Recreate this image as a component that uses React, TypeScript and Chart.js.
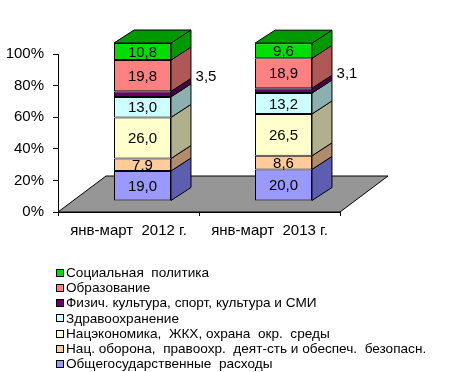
import React, { useEffect, useRef } from "react";
import { Chart, registerables } from "chart.js";

Chart.register(...registerables);

const categories = ["янв-март  2012 г.", "янв-март  2013 г."];
const seriesNames = [
  "Общегосударственные  расходы",
  "Нац. оборона,  правоохр.  деят-сть и обеспеч.  безопасн.",
  "Нацэкономика,  ЖКХ, охрана  окр.  среды",
  "Здравоохранение",
  "Физич. культура, спорт, культура и СМИ",
  "Образование",
  "Социальная  политика",
];
const general = [19.0, 20.0];
const defense = [7.9, 8.6];
const economy = [26.0, 26.5];
const health = [13.0, 13.2];
const culture = [3.5, 3.1];
const education = [19.8, 18.9];
const social = [10.8, 9.6];
const seriesValues = [general, defense, economy, health, culture, education, social];
const yTicks = [0, 20, 40, 60, 80, 100];

const frontColors = ["#9999FF", "#FFCC99", "#FFFFCC", "#CCFFFF", "#660066", "#FF8080", "#00DD00"];
const sideColors = ["#5E5EB0", "#B08C6A", "#B0B08C", "#8CB0B0", "#460046", "#B05858", "#009A00"];

const FONT = "'Liberation Sans', Arial, sans-serif";
const SHIFT_X = 14;
const SHIFT_Y = -11;
const DEPTH_X = 20;
const DEPTH_Y = -13;
const FLOOR_X = 48;
const FLOOR_Y = -36;

const fmt = (v: number) => v.toFixed(1).replace(".", ",");

const threeD = {
  id: "threeD",
  beforeDatasetsDraw(chart: any) {
    const { ctx, chartArea: a } = chart;
    ctx.save();
    ctx.beginPath();
    ctx.moveTo(a.left, a.bottom);
    ctx.lineTo(a.right, a.bottom);
    ctx.lineTo(a.right + FLOOR_X, a.bottom + FLOOR_Y);
    ctx.lineTo(a.left + FLOOR_X, a.bottom + FLOOR_Y);
    ctx.closePath();
    ctx.fillStyle = "#969696";
    ctx.fill();
    ctx.strokeStyle = "#000";
    ctx.lineWidth = 1;
    ctx.stroke();
    ctx.translate(SHIFT_X, SHIFT_Y);
  },
  afterDatasetsDraw(chart: any) {
    const ctx = chart.ctx;
    const n = chart.data.datasets.length;
    ctx.strokeStyle = "#000";
    ctx.lineWidth = 1;
    for (let i = 0; i < n; i++) {
      const meta = chart.getDatasetMeta(i);
      meta.data.forEach((bar: any) => {
        const p = bar.getProps(["x", "y", "base", "width"], true);
        const l = p.x - p.width / 2;
        const r = p.x + p.width / 2;
        const top = Math.min(p.y, p.base);
        const bot = Math.max(p.y, p.base);
        ctx.beginPath();
        ctx.moveTo(r, top);
        ctx.lineTo(r + DEPTH_X, top + DEPTH_Y);
        ctx.lineTo(r + DEPTH_X, bot + DEPTH_Y);
        ctx.lineTo(r, bot);
        ctx.closePath();
        ctx.fillStyle = sideColors[i];
        ctx.fill();
        ctx.stroke();
        if (i === n - 1) {
          ctx.beginPath();
          ctx.moveTo(l, top);
          ctx.lineTo(l + DEPTH_X, top + DEPTH_Y);
          ctx.lineTo(r + DEPTH_X, top + DEPTH_Y);
          ctx.lineTo(r, top);
          ctx.closePath();
          ctx.fillStyle = sideColors[i];
          ctx.fill();
          ctx.stroke();
        }
      });
    }
    ctx.fillStyle = "#000";
    ctx.font = `15px ${FONT}`;
    ctx.textAlign = "center";
    ctx.textBaseline = "middle";
    for (let i = 0; i < n; i++) {
      const meta = chart.getDatasetMeta(i);
      const vals = chart.data.datasets[i].data;
      meta.data.forEach((bar: any, j: number) => {
        const p = bar.getProps(["x", "y", "base", "width"], true);
        const mid = (p.y + p.base) / 2;
        const v = vals[j];
        if (v < 5) {
          ctx.fillText(fmt(v), p.x + p.width / 2 + 35, mid - 17);
        } else {
          ctx.fillText(fmt(v), p.x, mid + 1);
        }
      });
    }
    ctx.restore();
  },
  afterDraw(chart: any) {
    const ctx = chart.ctx;
    const ds = chart.data.datasets;
    ctx.save();
    ctx.font = `13.6px ${FONT}`;
    ctx.textAlign = "left";
    ctx.textBaseline = "middle";
    for (let k = 0; k < ds.length; k++) {
      const i = ds.length - 1 - k;
      const cy = 272.5 + k * 15.25;
      ctx.fillStyle = ds[i].backgroundColor;
      ctx.fillRect(56, Math.round(cy - 4), 8, 8);
      ctx.strokeStyle = "#000";
      ctx.lineWidth = 1;
      ctx.strokeRect(56.5, Math.round(cy - 4) + 0.5, 7, 7);
      ctx.fillStyle = "#000";
      ctx.fillText(ds[i].label, 66, cy + 0.5);
    }
    ctx.restore();
  },
};

export default function App() {
  const ref = useRef<HTMLCanvasElement>(null);
  useEffect(() => {
    if (!ref.current) return;
    const chart = new Chart(ref.current, {
      type: "bar",
      data: {
        labels: categories,
        datasets: seriesValues.map((vals, i) => ({
          label: seriesNames[i],
          data: vals,
          backgroundColor: frontColors[i],
          borderColor: "#000",
          borderWidth: 1,
          borderSkipped: false,
          clip: false as any,
          categoryPercentage: 1,
          barPercentage: 0.404,
        })),
      },
      options: {
        animation: false,
        responsive: false,
        layout: { padding: { top: 54, right: 131, bottom: 120, left: 0 } },
        plugins: { legend: { display: false }, tooltip: { enabled: false } },
        scales: {
          x: {
            stacked: true,
            afterFit: (s: any) => {
              s.height = 40;
            },
            grid: {
              offset: true,
              drawOnChartArea: false,
              tickLength: 4,
              color: "#000",
            },
            border: { color: "#000" },
            ticks: { color: "#000", font: { family: FONT, size: 15 }, padding: 6 },
          },
          y: {
            stacked: true,
            min: 0,
            max: 100,
            afterFit: (s: any) => {
              s.width = 58;
            },
            afterBuildTicks: (s: any) => {
              s.ticks = yTicks.map((v) => ({ value: v }));
            },
            grid: { drawOnChartArea: false, tickLength: 5, color: "#000" },
            border: { color: "#000" },
            ticks: {
              color: "#000",
              font: { family: FONT, size: 15 },
              padding: 9,
              callback: (v: any) => `${v}%`,
            },
          },
        },
      },
      plugins: [threeD],
    });
    return () => chart.destroy();
  }, []);
  return (
    <div style={{ position: "fixed", left: 0, top: 0, width: 471, height: 372, background: "#fff" }}>
      <canvas ref={ref} width={471} height={372} style={{ width: 471, height: 372 }} />
    </div>
  );
}
